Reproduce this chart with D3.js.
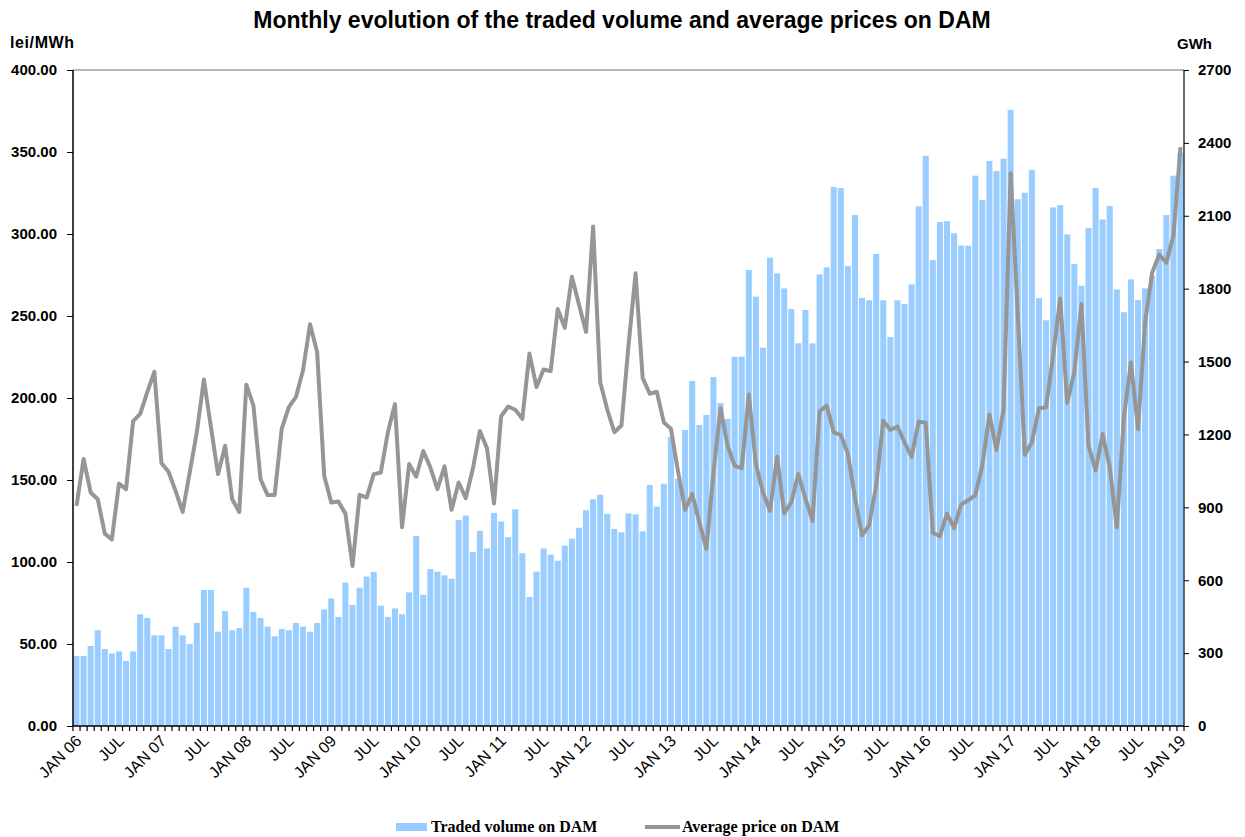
<!DOCTYPE html>
<html>
<head>
<meta charset="utf-8">
<script src="https://cdn.jsdelivr.net/npm/d3@7"></script>
<style>
  body { margin: 0; background: #fff; }
  svg text { font-family: "Liberation Sans", Arial, sans-serif; }
</style>
</head>
<body>
<div id="chart"></div>
<script>
// traded volume on DAM, GWh, JAN 06 .. JAN 19
var volume = [
    288, 288, 329, 394, 317, 298, 307, 268, 307, 460, 445, 373,
    373, 317, 409, 373, 337, 424, 560, 560, 388, 473, 394, 403,
    569, 469, 445, 409, 369, 399, 394, 424, 409, 388, 424, 480,
    525, 449, 590, 498, 569, 615, 634, 495, 449, 484, 460, 550,
    782, 540, 646, 635, 620, 606, 848, 866, 716, 803, 731, 877,
    842, 777, 892, 711, 531, 635, 731, 705, 680, 742, 771, 816,
    888, 933, 952, 873, 811, 797, 875, 871, 801, 992, 903, 997,
    1190, 1018, 1218, 1420, 1239, 1280, 1436, 1329, 1264, 1520, 1520, 1877,
    1767, 1557, 1928, 1863, 1801, 1716, 1575, 1712, 1575, 1859, 1888, 2218,
    2214, 1893, 2103, 1762, 1752, 1943, 1752, 1601, 1752, 1737, 1818, 2139,
    2347, 1918, 2074, 2078, 2028, 1977, 1977, 2265, 2165, 2325, 2284, 2335,
    2536, 2168, 2195, 2289, 1761, 1670, 2134, 2144, 2023, 1902, 1812, 2049,
    2214, 2085, 2140, 1797, 1703, 1838, 1753, 1801, 1852, 1963, 2103, 2265,
    2360
];

// average price on DAM, lei/MWh
var price = [
    134.2, 162.8, 142.4, 138.3, 117.3, 113.8, 147.9, 144.4, 185.9, 190.3, 203.6, 215.9,
    160.3, 155.0, 143.4, 130.5, 154.6, 179.1, 211.3, 182.2, 153.6, 170.9, 138.3, 130.5,
    208.1, 195.4, 150.6, 140.8, 140.8, 181.2, 194.4, 200.5, 216.8, 245.0, 228.1, 152.6,
    136.3, 136.9, 129.5, 97.5, 141.0, 139.3, 153.6, 154.6, 179.1, 196.3, 121.2, 159.7,
    152.0, 167.7, 157.7, 144.4, 158.3, 131.8, 148.5, 138.9, 156.7, 179.9, 169.3, 135.7,
    188.9, 194.8, 192.8, 187.3, 227.1, 206.7, 217.4, 216.4, 254.2, 242.8, 274.0, 257.0,
    240.3, 304.6, 209.7, 193.0, 179.1, 183.2, 232.0, 276.0, 212.3, 202.6, 203.8, 185.0,
    181.2, 155.2, 131.8, 141.4, 124.4, 108.1, 154.2, 193.8, 170.9, 158.7, 157.1, 202.2,
    159.7, 142.4, 131.2, 164.2, 129.7, 136.3, 153.6, 138.7, 125.0, 191.8, 195.4, 179.1,
    177.5, 165.9, 139.3, 116.3, 122.4, 146.5, 186.2, 180.5, 182.6, 173.0, 164.1, 185.6,
    184.9, 117.9, 115.7, 129.5, 120.7, 135.1, 137.6, 140.7, 159.1, 189.9, 168.4, 193.2,
    337.1, 251.3, 165.4, 173.0, 193.7, 194.2, 226.0, 260.6, 197.0, 215.9, 257.1, 171.0,
    155.8, 178.0, 157.8, 121.2, 188.1, 221.7, 181.1, 246.0, 276.5, 287.5, 282.5, 299.0,
    353.0
];

// x tick labels, one every six months
var tickLabels = [
    "JAN 06", "JUL", "JAN 07", "JUL", "JAN 08", "JUL", "JAN 09", "JUL", "JAN 10",
    "JUL", "JAN 11", "JUL", "JAN 12", "JUL", "JAN 13", "JUL", "JAN 14", "JUL",
    "JAN 15", "JUL", "JAN 16", "JUL", "JAN 17", "JUL", "JAN 18", "JUL", "JAN 19"
];

var priceTicks = [0, 50, 100, 150, 200, 250, 300, 350, 400];
var volumeTicks = [0, 300, 600, 900, 1200, 1500, 1800, 2100, 2400, 2700];

var width = 1245, height = 837;
var margin = {top: 70, right: 61, bottom: 111, left: 73};
var plotRight = width - margin.right;
var plotBottom = height - margin.bottom;

var svg = d3.select("#chart")
    .append("svg")
    .attr("width", width)
    .attr("height", height);

var months = d3.range(volume.length);

var x = d3.scaleBand()
    .domain(months)
    .range([margin.left, plotRight])
    .paddingInner(0.15)
    .paddingOuter(0.07);

var yPrice = d3.scaleLinear().domain([0, 400]).range([plotBottom, margin.top]);
var yVolume = d3.scaleLinear().domain([0, 2700]).range([plotBottom, margin.top]);

// top border of the plot area
svg.append("line")
    .attr("x1", margin.left).attr("x2", plotRight)
    .attr("y1", margin.top).attr("y2", margin.top)
    .attr("stroke", "#a0a0a0").attr("stroke-width", 1.5);

// bars
svg.append("g")
    .selectAll("rect")
    .data(volume)
    .join("rect")
    .attr("x", function (d, i) { return x(i); })
    .attr("y", function (d) { return yVolume(d); })
    .attr("width", x.bandwidth())
    .attr("height", function (d) { return plotBottom - yVolume(d); })
    .attr("fill", "#99ccff");

// price line
var line = d3.line()
    .x(function (d, i) { return x(i) + x.bandwidth() / 2; })
    .y(function (d) { return yPrice(d); });

svg.append("path")
    .datum(price)
    .attr("d", line)
    .attr("fill", "none")
    .attr("stroke", "#969696")
    .attr("stroke-width", 4)
    .attr("stroke-linejoin", "round");

// left axis
var leftAxis = d3.axisLeft(yPrice)
    .tickValues(priceTicks)
    .tickFormat(d3.format(".2f"))
    .tickSize(6)
    .tickPadding(10);

var gLeft = svg.append("g")
    .attr("transform", "translate(" + margin.left + ",0)")
    .call(leftAxis);
gLeft.select(".domain").attr("stroke", "#000").attr("stroke-width", 1.5)
    .attr("d", "M0," + plotBottom + "V" + margin.top);
gLeft.selectAll("text")
    .attr("font-size", 15).attr("font-weight", "bold").attr("fill", "#000")
    .style("font-family", "Liberation Sans, Arial, sans-serif");

// right axis
var rightAxis = d3.axisRight(yVolume)
    .tickValues(volumeTicks)
    .tickFormat(d3.format("d"))
    .tickSize(5)
    .tickPadding(9);

var gRight = svg.append("g")
    .attr("transform", "translate(" + plotRight + ",0)")
    .call(rightAxis);
gRight.select(".domain").attr("stroke", "#000").attr("stroke-width", 1.2)
    .attr("d", "M0," + plotBottom + "V" + margin.top);
gRight.selectAll("text")
    .attr("font-size", 15).attr("font-weight", "bold").attr("fill", "#000")
    .style("font-family", "Liberation Sans, Arial, sans-serif");

// bottom axis: small tick between each month
var gBottom = svg.append("g");
gBottom.append("line")
    .attr("x1", margin.left).attr("x2", plotRight)
    .attr("y1", plotBottom).attr("y2", plotBottom)
    .attr("stroke", "#000").attr("stroke-width", 1.5);

gBottom.selectAll(".mtick")
    .data(d3.range(volume.length + 1))
    .join("line")
    .attr("class", "mtick")
    .attr("x1", function (i) { return i < volume.length ? x(i) - x.step() * x.paddingInner() / 2 : plotRight; })
    .attr("x2", function (i) { return i < volume.length ? x(i) - x.step() * x.paddingInner() / 2 : plotRight; })
    .attr("y1", plotBottom)
    .attr("y2", plotBottom + 5)
    .attr("stroke", "#000")
    .attr("stroke-width", 1.2);

gBottom.selectAll(".xlabel")
    .data(tickLabels)
    .join("text")
    .attr("class", "xlabel")
    .attr("transform", function (d, i) {
        var cx = x(i * 6) + x.bandwidth() / 2 + 2;
        return "translate(" + cx + "," + (plotBottom + 12) + ") rotate(-45)";
    })
    .attr("text-anchor", "end")
    .attr("dy", "0.35em")
    .attr("font-size", 16)
    .attr("fill", "#000")
    .text(function (d) { return d; });

// title and axis units
svg.append("text")
    .attr("x", 622).attr("y", 28)
    .attr("text-anchor", "middle")
    .attr("font-size", 23).attr("font-weight", "bold")
    .text("Monthly evolution of the traded volume and average prices on DAM");

svg.append("text")
    .attr("x", 10).attr("y", 48)
    .attr("font-size", 16).attr("font-weight", "bold")
    .attr("letter-spacing", 0.6)
    .text("lei/MWh");

svg.append("text")
    .attr("x", 1177).attr("y", 49)
    .attr("font-size", 15).attr("font-weight", "bold")
    .text("GWh");

// legend
var legend = svg.append("g");
legend.append("rect")
    .attr("x", 396).attr("y", 823).attr("width", 31).attr("height", 8)
    .attr("fill", "#99ccff");
legend.append("text")
    .attr("x", 431).attr("y", 832)
    .attr("font-size", 16).attr("font-weight", "bold")
    .style("font-family", "Liberation Serif, Times New Roman, serif")
    .text("Traded volume on DAM");
legend.append("line")
    .attr("x1", 645).attr("x2", 680).attr("y1", 827).attr("y2", 827)
    .attr("stroke", "#969696").attr("stroke-width", 4);
legend.append("text")
    .attr("x", 682).attr("y", 832)
    .attr("font-size", 16).attr("font-weight", "bold")
    .style("font-family", "Liberation Serif, Times New Roman, serif")
    .text("Average price on DAM");
</script>
</body>
</html>
